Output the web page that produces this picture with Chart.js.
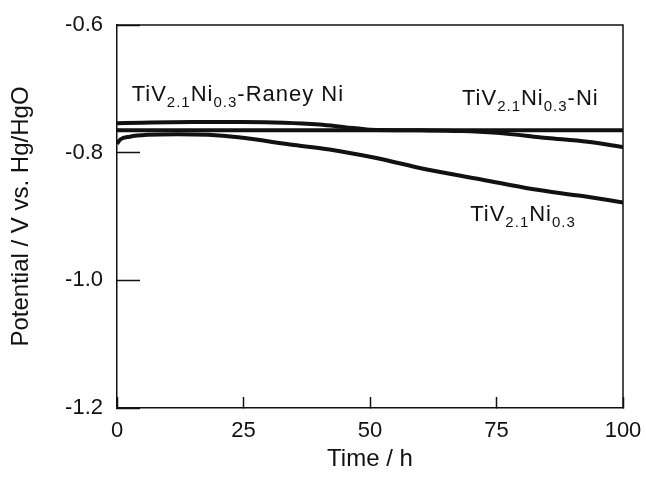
<!DOCTYPE html>
<html lang="en">
<head>
    <meta charset="UTF-8">
    <title>Potential vs Time</title>
    <script src="https://cdn.jsdelivr.net/npm/chart.js"></script>
    <style>
        body {
            margin: 0;
            background: #ffffff;
        }
    </style>
</head>
<body>
    <canvas id="potentialChart" width="646" height="483"></canvas>

    <script>
        // Axis ticks
        const xTicks = [0, 25, 50, 75, 100];
        const yTicks = [-1.2, -1.0, -0.8, -0.6];

        // TiV2.1Ni0.3-Raney Ni
        const raneyTime = [0, 5, 15, 25, 33, 40, 45, 50, 60, 68, 75, 85, 93, 100];
        const raneyPot = [-0.754, -0.753, -0.752, -0.752, -0.753, -0.756, -0.760, -0.764, -0.765, -0.766, -0.769, -0.777, -0.783, -0.791];

        // TiV2.1Ni0.3-Ni
        const niTime = [0, 25, 50, 75, 100];
        const niPot = [-0.765, -0.765, -0.765, -0.765, -0.765];

        // TiV2.1Ni0.3
        const bareTime = [0, 0.7, 2.5, 6, 12, 18, 24, 35, 42, 51, 61, 72, 82, 92, 100];
        const barePot = [-0.786, -0.779, -0.775, -0.772, -0.771, -0.772, -0.776, -0.788, -0.795, -0.808, -0.826, -0.842, -0.857, -0.868, -0.878];

        // curve labels, split into normal / subscript pieces
        const raneyLabel = [['TiV', 0], ['2.1', 1], ['Ni', 0], ['0.3', 1], ['-Raney Ni', 0]];
        const niLabel = [['TiV', 0], ['2.1', 1], ['Ni', 0], ['0.3', 1], ['-Ni', 0]];
        const bareLabel = [['TiV', 0], ['2.1', 1], ['Ni', 0], ['0.3', 1]];

        function toPoints(xs, ys) {
            return xs.map((x, i) => ({x: x, y: ys[i]}));
        }

        function drawFormula(ctx, parts, x, y, align) {
            ctx.save();
            ctx.fillStyle = '#111';
            ctx.textBaseline = 'alphabetic';
            ctx.textAlign = 'left';
            ctx.letterSpacing = '1px';
            const fontFor = sub => sub ? '15px "Liberation Sans", Arial, sans-serif' : '22px "Liberation Sans", Arial, sans-serif';
            let total = 0;
            parts.forEach(p => {
                ctx.font = fontFor(p[1]);
                total += ctx.measureText(p[0]).width;
            });
            let cx = align === 'right' ? x - total : x;
            parts.forEach(p => {
                ctx.font = fontFor(p[1]);
                ctx.fillText(p[0], cx, p[1] ? y + 6 : y);
                cx += ctx.measureText(p[0]).width;
            });
            ctx.restore();
        }

        // frame on top/right + curve labels
        const framePlugin = {
            id: 'frameAndLabels',
            afterDraw(chart) {
                const ctx = chart.ctx;
                const a = chart.chartArea;
                const xs = chart.scales.x;
                const ys = chart.scales.y;
                ctx.save();
                ctx.strokeStyle = '#111';
                ctx.lineWidth = 1.5;
                ctx.beginPath();
                ctx.moveTo(a.left, a.top);
                ctx.lineTo(a.right, a.top);
                ctx.lineTo(a.right, a.bottom);
                ctx.stroke();
                ctx.restore();

                drawFormula(ctx, raneyLabel, xs.getPixelForValue(2.9), ys.getPixelForValue(-0.719), 'left');
                drawFormula(ctx, niLabel, xs.getPixelForValue(95.2), ys.getPixelForValue(-0.7254), 'right');
                drawFormula(ctx, bareLabel, xs.getPixelForValue(69.8), ys.getPixelForValue(-0.907), 'left');
            }
        };

        // fixed axis box sizes, no extra room for edge labels
        function fixBox(scale, prop, size) {
            scale[prop] = size;
            scale.paddingTop = 0;
            scale.paddingBottom = 0;
            scale.paddingLeft = 0;
            scale.paddingRight = 0;
        }

        const lineStyle = {
            borderColor: '#111',
            borderWidth: 4,
            pointRadius: 0,
            fill: false,
            cubicInterpolationMode: 'monotone'
        };

        new Chart(document.getElementById('potentialChart').getContext('2d'), {
            type: 'line',
            data: {
                datasets: [
                    Object.assign({label: 'TiV2.1Ni0.3-Raney Ni', data: toPoints(raneyTime, raneyPot)}, lineStyle),
                    Object.assign({label: 'TiV2.1Ni0.3-Ni', data: toPoints(niTime, niPot)}, lineStyle),
                    Object.assign({label: 'TiV2.1Ni0.3', data: toPoints(bareTime, barePot)}, lineStyle)
                ]
            },
            options: {
                responsive: false,
                animation: false,
                layout: {
                    padding: {top: 25, right: 23, bottom: 0, left: 0}
                },
                plugins: {
                    legend: {display: false},
                    tooltip: {enabled: false}
                },
                scales: {
                    x: {
                        type: 'linear',
                        min: 0,
                        max: 100,
                        afterBuildTicks: scale => { scale.ticks = xTicks.map(v => ({value: v})); },
                        afterFit: scale => fixBox(scale, 'height', 75),
                        grid: {
                            display: true,
                            drawOnChartArea: false,
                            drawTicks: true,
                            tickLength: -11,
                            tickWidth: 1.5,
                            tickColor: '#111'
                        },
                        border: {display: true, color: '#111', width: 1.5},
                        ticks: {
                            padding: 21,
                            color: '#111',
                            maxRotation: 0,
                            font: {family: '"Liberation Sans", Arial, sans-serif', size: 22}
                        },
                        title: {
                            display: true,
                            text: 'Time / h',
                            color: '#111',
                            padding: {top: 0, bottom: 9},
                            font: {family: '"Liberation Sans", Arial, sans-serif', size: 24}
                        }
                    },
                    y: {
                        type: 'linear',
                        min: -1.2,
                        max: -0.6,
                        afterBuildTicks: scale => { scale.ticks = yTicks.map(v => ({value: v})); },
                        afterFit: scale => fixBox(scale, 'width', 117),
                        grid: {
                            display: true,
                            drawOnChartArea: false,
                            drawTicks: true,
                            tickLength: -23,
                            tickWidth: 1.5,
                            tickColor: '#111'
                        },
                        border: {display: true, color: '#111', width: 1.5},
                        ticks: {
                            padding: 37,
                            color: '#111',
                            callback: v => v.toFixed(1),
                            font: {family: '"Liberation Sans", Arial, sans-serif', size: 22}
                        },
                        title: {
                            display: true,
                            text: 'Potential / V vs. Hg/HgO',
                            color: '#111',
                            padding: {top: 7, bottom: 0},
                            font: {family: '"Liberation Sans", Arial, sans-serif', size: 24}
                        }
                    }
                }
            },
            plugins: [framePlugin]
        });
    </script>
</body>
</html>
